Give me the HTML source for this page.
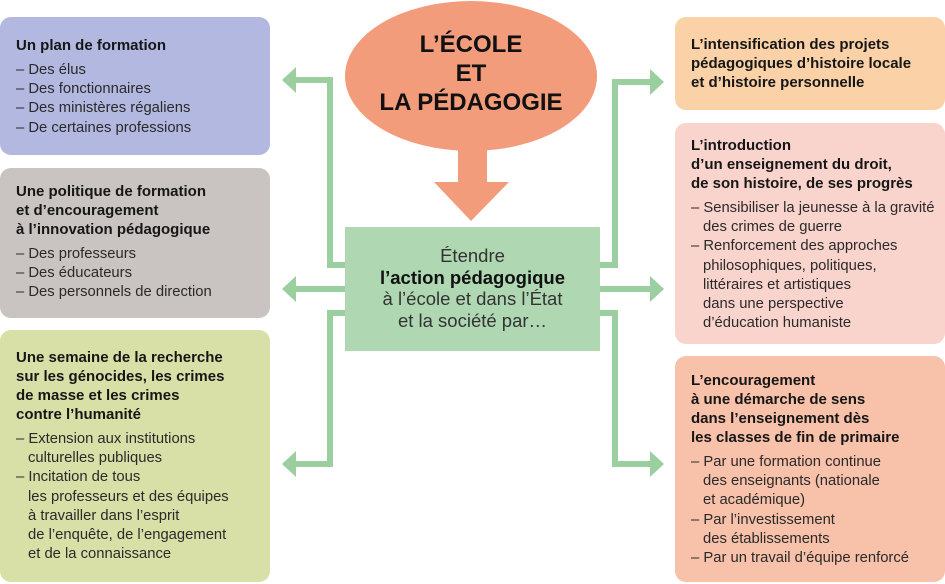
<!DOCTYPE html>
<html><head><meta charset="utf-8"><style>
*{margin:0;padding:0;box-sizing:border-box}
body{width:945px;height:584px;background:#fff;position:relative;overflow:hidden;font-family:"Liberation Sans",sans-serif;color:#1f1f1f}
.box{position:absolute;border-radius:11px;padding-left:16px;white-space:nowrap}
.t{font-weight:bold;font-size:15px;line-height:19px;color:#161616}
.l{font-size:14.8px;line-height:19.2px;color:#2a2a2a}
.l div{padding-left:12px;text-indent:-12px}
.sp{height:6px}
</style></head><body>
<svg width="945" height="584" style="position:absolute;left:0;top:0">
<ellipse cx="471" cy="76" rx="126" ry="75" fill="#f39c7c"/>
<rect x="458" y="148" width="29" height="36" fill="#f39c7c"/>
<polygon points="434,182 509,182 471,221" fill="#f39c7c"/>
<g stroke="#9bcf9f" stroke-width="6" fill="none">
<polyline points="345,265 330,265 330,80 292,80"/>
<line x1="345" y1="289" x2="292" y2="289"/>
<polyline points="345,313 330,313 330,464 292,464"/>
<polyline points="600,265 615,265 615,82 653,82"/>
<line x1="600" y1="289" x2="653" y2="289"/>
<polyline points="600,313 615,313 615,464 653,464"/>
</g>
<g fill="#9bcf9f">
<polygon points="282,80 296,67 296,93"/>
<polygon points="282,289 296,276 296,302"/>
<polygon points="282,464 296,451 296,477"/>
<polygon points="664,82 650,69 650,95"/>
<polygon points="664,289 650,276 650,302"/>
<polygon points="664,464 650,451 650,477"/>
</g>
<rect x="345" y="227" width="255" height="124" fill="#afd7b2"/>
</svg>
<div style="position:absolute;left:345px;top:30px;width:252px;text-align:center;font-weight:bold;font-size:24px;line-height:29px;color:#111">L’ÉCOLE<br>ET<br>LA PÉDAGOGIE</div>
<div style="position:absolute;left:345px;top:245px;width:255px;text-align:center;font-size:18.5px;line-height:21.5px;color:#333;white-space:nowrap">Étendre<br><b style="color:#111">l’action pédagogique</b><br>à l’école et dans l’État<br>et la société par…</div>

<div class="box" style="left:0;top:17px;width:270px;height:138px;background:#b2b8e0;padding-top:19px">
<div class="t">Un plan de formation</div><div class="sp"></div>
<div class="l"><div>– Des élus</div><div>– Des fonctionnaires</div><div>– Des ministères régaliens</div><div>– De certaines professions</div></div></div>

<div class="box" style="left:0;top:168px;width:270px;height:150px;background:#c9c4c1;padding-top:14px">
<div class="t">Une politique de formation<br>et d’encouragement<br>à l’innovation pédagogique</div><div class="sp"></div>
<div class="l"><div>– Des professeurs</div><div>– Des éducateurs</div><div>– Des personnels de direction</div></div></div>

<div class="box" style="left:0;top:330px;width:270px;height:252px;background:#d8e0a7;padding-top:18px">
<div class="t">Une semaine de la recherche<br>sur les génocides, les crimes<br>de masse et les crimes<br>contre l’humanité</div><div class="sp"></div>
<div class="l"><div>– Extension aux institutions<br>culturelles publiques</div><div>– Incitation de tous<br>les professeurs et des équipes<br>à travailler dans l’esprit<br>de l’enquête, de l’engagement<br>et de la connaissance</div></div></div>

<div class="box" style="left:675px;top:17px;width:270px;height:93px;background:#fbd2a8;padding-top:18px">
<div class="t">L’intensification des projets<br>pédagogiques d’histoire locale<br>et d’histoire personnelle</div></div>

<div class="box" style="left:675px;top:123px;width:270px;height:221px;background:#f9d4cc;padding-top:13px">
<div class="t">L’introduction<br>d’un enseignement du droit,<br>de son histoire, de ses progrès</div><div class="sp"></div>
<div class="l"><div>– Sensibiliser la jeunesse à la gravité<br>des crimes de guerre</div><div>– Renforcement des approches<br>philosophiques, politiques,<br>littéraires et artistiques<br>dans une perspective<br>d’éducation humaniste</div></div></div>

<div class="box" style="left:675px;top:356px;width:270px;height:226px;background:#f8c1a9;padding-top:15px">
<div class="t">L’encouragement<br>à une démarche de sens<br>dans l’enseignement dès<br>les classes de fin de primaire</div><div class="sp"></div>
<div class="l"><div>– Par une formation continue<br>des enseignants (nationale<br>et académique)</div><div>– Par l’investissement<br>des établissements</div><div>– Par un travail d’équipe renforcé</div></div></div>
</body></html>
